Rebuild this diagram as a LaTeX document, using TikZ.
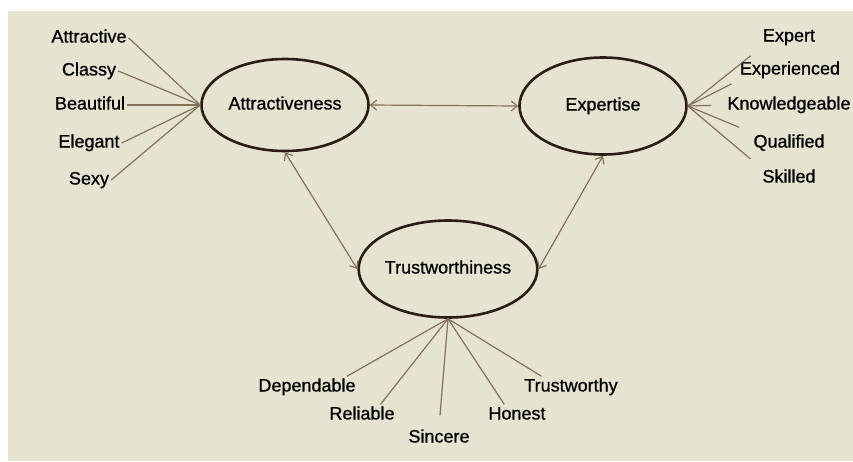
\documentclass[tikz,border=0pt]{standalone}
\usepackage{fontspec}
\setmainfont{Liberation Sans}[FakeBold=0.7]
\usetikzlibrary{shapes.geometric,arrows.meta}
\definecolor{paper}{HTML}{E6E3D1}
\definecolor{rim}{HTML}{2B1D14}
\definecolor{wire}{HTML}{85705A}
\begin{document}
\begin{tikzpicture}[x=1pt,y=-1pt,
	every node/.style={font=\fontsize{18}{20}\selectfont,inner sep=2pt,
		text height=13pt,text depth=4pt},
	latent/.style={ellipse,draw=rim,line width=2.6pt,minimum width=167pt,
		minimum height=97pt,inner sep=0},
	load/.style={wire,line width=1.2pt},
	link/.style={wire,line width=1.2pt,<->,
		>={Straight Barb[length=6pt,width=10pt]}}]
\useasboundingbox (0,0) rectangle (853,461);
\fill[white] (0,0) rectangle (853,461);
\fill[paper] (8,11) rectangle (853,461);
% constructs
\node[latent,minimum height=92pt] (attr) at (285,105) {Attractiveness};
\node[latent] (expe) at (603,106) {Expertise};
\node[latent] (trust) at (448,269) {Trustworthiness};
% indicators
\node (a1) at (89,38) {Attractive};
\node (a2) at (89,71) {Classy};
\node (a3) at (90,105) {Beautiful};
\node (a4) at (89,143) {Elegant};
\node (a5) at (89,180) {Sexy};
\node (e1) at (789,37) {Expert};
\node (e2) at (790,70) {Experienced};
\node (e3) at (789,105) {Knowledgeable};
\node (e4) at (789,143) {Qualified};
\node (e5) at (789,178) {Skilled};
\node (t1) at (307,387) {Dependable};
\node (t2) at (362,415) {Reliable};
\node (t3) at (439,438) {Sincere};
\node (t4) at (517,415) {Honest};
\node (t5) at (571,387) {Trustworthy};
% loadings
\foreach \i in {1,...,5}
	\draw[load] (a\i.east) -- (attr.west);
\draw[load,shorten >=13pt] (expe.east) -- (e1.south west);
\draw[load,shorten >=7pt] (expe.east) -- (e2.south west);
\draw[load,shorten >=14pt] (expe.east) -- (e3.west);
\draw[load,shorten >=13pt] (expe.east) -- (e4.north west);
\draw[load,shorten >=13pt] (expe.east) -- (e5.north west);
\draw[load] (trust.south) -- (t1.15);
\draw[load] (trust.south) -- (t2.30);
\draw[load,shorten >=12pt] (trust.south) -- (t3.north);
\draw[load] (trust.south) -- (t4.140);
\draw[load] (trust.south) -- (t5.160);
% correlations
\draw[link] (attr.east) -- (expe.west);
\draw[link] (attr.south) -- (trust.west);
\draw[link] (expe.south) -- (trust.east);
\end{tikzpicture}
\end{document}
